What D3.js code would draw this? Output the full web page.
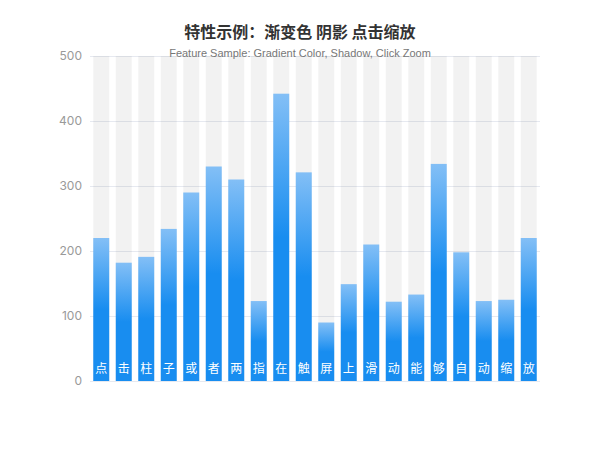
<!DOCTYPE html>
<html>
<head>
<meta charset="utf-8">
<script src="https://cdn.jsdelivr.net/npm/d3@7"></script>
<style>
  body { margin: 0; background: #fff; }
  svg { font-family: "Noto Sans CJK SC", "Noto Sans", sans-serif; }
</style>
</head>
<body>
<div id="chart"></div>
<script>
const categories = ['点', '击', '柱', '子', '或', '者', '两', '指', '在', '触', '屏', '上', '滑', '动', '能', '够', '自', '动', '缩', '放'];
const values = [220, 182, 191, 234, 290, 330, 310, 123, 442, 321, 90, 149, 210, 122, 133, 334, 198, 123, 125, 220];
const yTicks = [0, 100, 200, 300, 400, 500];
const yMax = 500;

const width = 600;
const height = 450;
const margin = { top: 56, right: 60, bottom: 69, left: 90 };

const svg = d3.select('#chart').append('svg')
  .attr('width', width)
  .attr('height', height);

const grad = svg.append('defs').append('linearGradient')
  .attr('id', 'barGrad')
  .attr('x1', 0).attr('y1', 0).attr('x2', 0).attr('y2', 1);
grad.append('stop').attr('offset', '0%').attr('stop-color', '#83bff6');
grad.append('stop').attr('offset', '50%').attr('stop-color', '#188df0');
grad.append('stop').attr('offset', '100%').attr('stop-color', '#188df0');

const x = d3.scaleBand()
  .domain(d3.range(categories.length))
  .range([margin.left, width - margin.right])
  .paddingInner(0.29)
  .paddingOuter(0.145);

const y = d3.scaleLinear()
  .domain([0, yMax])
  .range([height - margin.bottom, margin.top]);

// grid lines + y labels
const yAxis = d3.axisLeft(y)
  .tickValues(yTicks)
  .tickSize(-(width - margin.left - margin.right))
  .tickPadding(8);

const gy = svg.append('g')
  .attr('transform', `translate(${margin.left},0)`)
  .call(yAxis);
gy.select('.domain').remove();
gy.selectAll('.tick line').attr('stroke', '#E6E9F0');
gy.selectAll('.tick text')
  .attr('fill', '#999')
  .attr('font-size', 12)
  .attr('font-family', 'Inter, sans-serif');

// shadow bars
svg.append('g').selectAll('rect')
  .data(values)
  .enter()
  .append('rect')
  .attr('x', (d, i) => x(i))
  .attr('width', x.bandwidth())
  .attr('y', y(yMax))
  .attr('height', y(0) - y(yMax))
  .attr('fill', 'rgba(0,0,0,0.05)');

// value bars
svg.append('g').selectAll('rect')
  .data(values)
  .enter()
  .append('rect')
  .attr('x', (d, i) => x(i))
  .attr('width', x.bandwidth())
  .attr('y', d => y(d))
  .attr('height', d => y(0) - y(d))
  .attr('fill', 'url(#barGrad)');

// category labels inside
const xAxis = d3.axisBottom(x)
  .tickFormat(i => categories[i])
  .tickSize(0);
const gx = svg.append('g')
  .attr('transform', `translate(0,${y(0)})`)
  .call(xAxis);
gx.select('.domain').remove();
gx.selectAll('.tick text')
  .attr('y', -12)
  .attr('dy', '0.35em')
  .attr('fill', '#fff')
  .attr('font-size', 12)
  .attr('font-family', '"Noto Sans CJK SC", sans-serif');

// titles
svg.append('text')
  .attr('x', width / 2)
  .attr('y', 38)
  .attr('text-anchor', 'middle')
  .attr('font-size', 16)
  .attr('font-weight', 'bold')
  .attr('fill', '#333')
  .text('特性示例：渐变色 阴影 点击缩放');

svg.append('text')
  .attr('x', width / 2)
  .attr('y', 57)
  .attr('text-anchor', 'middle')
  .attr('font-size', 11)
  .attr('font-family', '"Liberation Sans", sans-serif')
  .attr('fill', '#777')
  .text('Feature Sample: Gradient Color, Shadow, Click Zoom');
</script>
</body>
</html>
